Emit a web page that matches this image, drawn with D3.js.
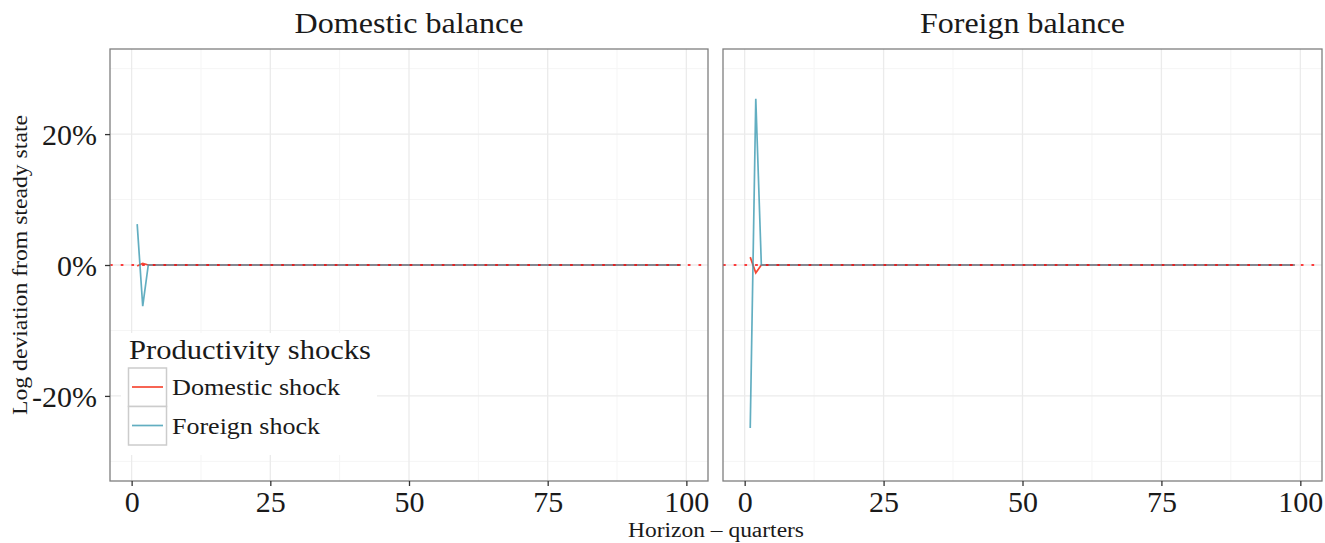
<!DOCTYPE html>
<html>
<head>
<meta charset="utf-8">
<script src="https://cdn.jsdelivr.net/npm/d3@7"></script>
<style>
  html, body { margin: 0; padding: 0; background: #ffffff; }
  svg { display: block; }
  text { font-family: "Liberation Serif", "DejaVu Serif", serif; fill: #1a1a1a; }
</style>
</head>
<body>
<svg id="chart" width="1325" height="543"></svg>
<script>
// Impulse responses (log deviation from steady state, in %) by horizon in quarters
const horizon = d3.range(1, 100);

const domesticBalanceDomesticShock = [
  -0.15, 0.26, 0, 0, 0, 0, 0, 0, 0, 0, 0, 0, 0, 0, 0, 0, 0, 0, 0, 0,
  0, 0, 0, 0, 0, 0, 0, 0, 0, 0, 0, 0, 0, 0, 0, 0, 0, 0, 0, 0,
  0, 0, 0, 0, 0, 0, 0, 0, 0, 0, 0, 0, 0, 0, 0, 0, 0, 0, 0, 0,
  0, 0, 0, 0, 0, 0, 0, 0, 0, 0, 0, 0, 0, 0, 0, 0, 0, 0, 0, 0,
  0, 0, 0, 0, 0, 0, 0, 0, 0, 0, 0, 0, 0, 0, 0, 0, 0, 0, 0
];
const domesticBalanceForeignShock = [
  6.25, -6.3, 0, 0, 0, 0, 0, 0, 0, 0, 0, 0, 0, 0, 0, 0, 0, 0, 0, 0,
  0, 0, 0, 0, 0, 0, 0, 0, 0, 0, 0, 0, 0, 0, 0, 0, 0, 0, 0, 0,
  0, 0, 0, 0, 0, 0, 0, 0, 0, 0, 0, 0, 0, 0, 0, 0, 0, 0, 0, 0,
  0, 0, 0, 0, 0, 0, 0, 0, 0, 0, 0, 0, 0, 0, 0, 0, 0, 0, 0, 0,
  0, 0, 0, 0, 0, 0, 0, 0, 0, 0, 0, 0, 0, 0, 0, 0, 0, 0, 0
];
const foreignBalanceDomesticShock = [
  1.2, -1.2, 0, 0, 0, 0, 0, 0, 0, 0, 0, 0, 0, 0, 0, 0, 0, 0, 0, 0,
  0, 0, 0, 0, 0, 0, 0, 0, 0, 0, 0, 0, 0, 0, 0, 0, 0, 0, 0, 0,
  0, 0, 0, 0, 0, 0, 0, 0, 0, 0, 0, 0, 0, 0, 0, 0, 0, 0, 0, 0,
  0, 0, 0, 0, 0, 0, 0, 0, 0, 0, 0, 0, 0, 0, 0, 0, 0, 0, 0, 0,
  0, 0, 0, 0, 0, 0, 0, 0, 0, 0, 0, 0, 0, 0, 0, 0, 0, 0, 0
];
const foreignBalanceForeignShock = [
  -24.9, 25.4, 0, 0, 0, 0, 0, 0, 0, 0, 0, 0, 0, 0, 0, 0, 0, 0, 0, 0,
  0, 0, 0, 0, 0, 0, 0, 0, 0, 0, 0, 0, 0, 0, 0, 0, 0, 0, 0, 0,
  0, 0, 0, 0, 0, 0, 0, 0, 0, 0, 0, 0, 0, 0, 0, 0, 0, 0, 0, 0,
  0, 0, 0, 0, 0, 0, 0, 0, 0, 0, 0, 0, 0, 0, 0, 0, 0, 0, 0, 0,
  0, 0, 0, 0, 0, 0, 0, 0, 0, 0, 0, 0, 0, 0, 0, 0, 0, 0, 0
];

const panelTitles = ["Domestic balance", "Foreign balance"];
const shockNames = ["Domestic shock", "Foreign shock"];
const shockColors = ["#F21A00", "#3B9AB2"];
const xTicks = [0, 25, 50, 75, 100];
const xMinor = [12.5, 37.5, 62.5, 87.5];
const yTicks = [-20, 0, 20];
const yMinor = [-30, -10, 10, 30];

const panels = [
  { title: panelTitles[0], series: [domesticBalanceDomesticShock, domesticBalanceForeignShock] },
  { title: panelTitles[1], series: [foreignBalanceDomesticShock, foreignBalanceForeignShock] }
];

const svg = d3.select("#chart");
const panelTop = 49, panelBottom = 481;
const panelX = [[110, 708], [723, 1322]];
const titleWidths = [229, 205];

const y = d3.scaleLinear().domain([-33, 33]).range([panelBottom, panelTop]);

const lineFor = (xs) => d3.line().x((d, i) => xs(horizon[i])).y(d => y(d));

panels.forEach((p, pi) => {
  const [x0, x1] = panelX[pi];
  const x = d3.scaleLinear().domain([-3.9, 103.9]).range([x0, x1]);
  const g = svg.append("g");

  // panel background
  g.append("rect").attr("x", x0).attr("y", panelTop).attr("width", x1 - x0).attr("height", panelBottom - panelTop)
    .attr("fill", "#ffffff");

  // minor grid
  g.selectAll(".xmin").data(xMinor).join("line")
    .attr("x1", d => x(d)).attr("x2", d => x(d)).attr("y1", panelTop).attr("y2", panelBottom)
    .attr("stroke", "#f5f5f5").attr("stroke-width", 1);
  g.selectAll(".ymin").data(yMinor).join("line")
    .attr("x1", x0).attr("x2", x1).attr("y1", d => y(d)).attr("y2", d => y(d))
    .attr("stroke", "#f5f5f5").attr("stroke-width", 1);
  // major grid
  g.selectAll(".xmaj").data(xTicks).join("line")
    .attr("x1", d => x(d)).attr("x2", d => x(d)).attr("y1", panelTop).attr("y2", panelBottom)
    .attr("stroke", "#ebebeb").attr("stroke-width", 1.3);
  g.selectAll(".ymaj").data(yTicks).join("line")
    .attr("x1", x0).attr("x2", x1).attr("y1", d => y(d)).attr("y2", d => y(d))
    .attr("stroke", "#ebebeb").attr("stroke-width", 1.3);

  // response lines
  p.series.forEach((vals, si) => {
    g.append("path").datum(vals)
      .attr("d", lineFor(x))
      .attr("fill", "none")
      .attr("stroke", shockColors[si])
      .attr("stroke-opacity", 0.8)
      .attr("stroke-width", 1.7);
  });

  // steady-state reference line
  g.append("line")
    .attr("x1", x0).attr("x2", x1).attr("y1", y(0)).attr("y2", y(0))
    .attr("stroke", "#FF0000").attr("stroke-width", 1.5)
    .attr("stroke-dasharray", "2.7 8");

  // panel border
  g.append("rect").attr("x", x0).attr("y", panelTop).attr("width", x1 - x0).attr("height", panelBottom - panelTop)
    .attr("fill", "none").attr("stroke", "#7f7f7f").attr("stroke-width", 1.3);

  // x axis
  const xa = g.append("g").attr("transform", `translate(0,${panelBottom})`)
    .call(d3.axisBottom(x).tickValues(xTicks).tickSize(5).tickPadding(5).tickFormat(d3.format("d")));
  xa.select(".domain").remove();
  xa.selectAll(".tick line").attr("stroke", "#333333").attr("stroke-width", 1.3);
  xa.selectAll(".tick text").attr("font-size", 30).attr("fill", "#1a1a1a")
    .attr("font-family", "Liberation Serif, serif").attr("dy", "0.70em");

  // y axis on the first panel only
  if (pi === 0) {
    const ya = g.append("g").attr("transform", `translate(${x0},0)`)
      .call(d3.axisLeft(y).tickValues(yTicks).tickSize(5).tickPadding(8).tickFormat(d => d + "%"));
    ya.select(".domain").remove();
    ya.selectAll(".tick line").attr("stroke", "#333333").attr("stroke-width", 1.3);
    ya.selectAll(".tick text").attr("font-size", 30).attr("fill", "#1a1a1a")
      .attr("font-family", "Liberation Serif, serif").attr("dy", "0.34em");
  }

  // facet title
  svg.append("text").attr("x", (x0 + x1) / 2).attr("y", 33)
    .attr("text-anchor", "middle").attr("font-size", 30)
    .attr("textLength", titleWidths[pi]).attr("lengthAdjust", "spacingAndGlyphs")
    .text(p.title);
});

// axis titles
svg.append("text").attr("x", 716).attr("y", 537).attr("text-anchor", "middle")
  .attr("font-size", 20).attr("textLength", 176).attr("lengthAdjust", "spacingAndGlyphs")
  .text("Horizon – quarters");
svg.append("text").attr("transform", "translate(27,265) rotate(-90)").attr("text-anchor", "middle")
  .attr("font-size", 20).attr("textLength", 300).attr("lengthAdjust", "spacingAndGlyphs")
  .text("Log deviation from steady state");

// legend inside the first panel
const legendWidths = [168, 148];
const lg = svg.append("g");
lg.append("rect").attr("x", 121).attr("y", 333).attr("width", 256).attr("height", 122).attr("fill", "#ffffff");
lg.append("text").attr("x", 129).attr("y", 359).attr("font-size", 27)
  .attr("textLength", 242).attr("lengthAdjust", "spacingAndGlyphs").text("Productivity shocks");
shockNames.forEach((name, i) => {
  const ky = 368 + i * 38.5;
  lg.append("rect").attr("x", 128.5).attr("y", ky).attr("width", 38).attr("height", 38.5)
    .attr("fill", "#ffffff").attr("stroke", "#cccccc").attr("stroke-width", 1.5);
  lg.append("line").attr("x1", 132).attr("x2", 163).attr("y1", ky + 19).attr("y2", ky + 19)
    .attr("stroke", shockColors[i]).attr("stroke-opacity", 0.8).attr("stroke-width", 1.7);
  lg.append("text").attr("x", 172).attr("y", ky + 27).attr("font-size", 23)
    .attr("textLength", legendWidths[i]).attr("lengthAdjust", "spacingAndGlyphs").text(name);
});
</script>
</body>
</html>
